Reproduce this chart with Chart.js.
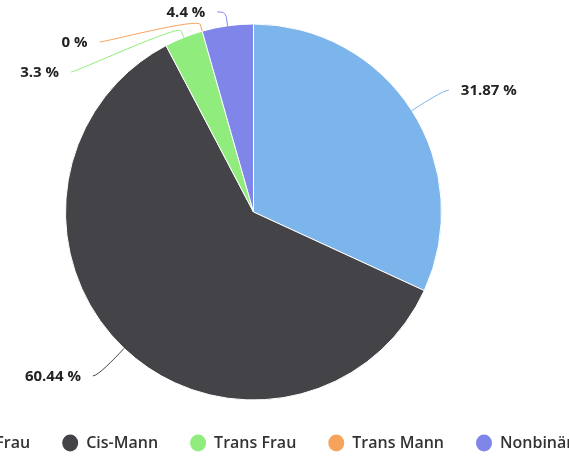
<!DOCTYPE html>
<html>
<head>
<meta charset="utf-8">
<script src="https://cdn.jsdelivr.net/npm/chart.js@4.4.1/dist/chart.umd.min.js"></script>
<style>
    html, body { margin: 0; padding: 0; background: #fff; overflow: hidden; width: 569px; height: 456px; }
    #wrap { position: absolute; left: -143px; top: 0; width: 801px; height: 461px; }
</style>
</head>
<body>
<div id="wrap"><canvas id="gender-chart" width="801" height="461"></canvas></div>
<script>
const categories = ['Cis-Frau', 'Cis-Mann', 'Trans Frau', 'Trans Mann', 'Nonbinär'];
const shares = [31.87, 60.44, 3.3, 0, 4.4];
const sliceColors = ['#7cb5ec', '#434348', '#90ed7d', '#f7a35c', '#8085e9'];

// labels outside the pie with bent connectors, spread apart when they crowd
const pieLabels = {
    id: 'pieLabels',
    afterLayout(chart, args, opts) {
        // legend sits a little right of the pie centre
        if (chart.legend) {
            chart.legend.left += opts.legendShift;
            chart.legend.right += opts.legendShift;
        }
    },
    afterDatasetsDraw(chart, args, opts) {
        const ctx = chart.ctx;
        const dataset = chart.data.datasets[0];
        const arcs = chart.getDatasetMeta(0).data;

        const items = arcs.map((arc, i) => {
            const {x, y, startAngle, endAngle, outerRadius} =
                arc.getProps(['x', 'y', 'startAngle', 'endAngle', 'outerRadius'], true);
            const mid = (startAngle + endAngle) / 2;
            const cos = Math.cos(mid);
            const sin = Math.sin(mid);
            const R = outerRadius + opts.distance;
            const brk = outerRadius + opts.breakOffset;
            return {
                cx: x, cy: y, r: outerRadius, R: R,
                left: cos < 0,
                naturalY: y + sin * R,
                touch: {x: x + cos * outerRadius, y: y + sin * outerRadius},
                brk: {x: x + cos * brk, y: y + sin * brk},
                text: dataset.data[i] + ' %',
                color: dataset.backgroundColor[i]
            };
        });

        [true, false].forEach(isLeft => {
            const group = items.filter(it => it.left === isLeft).sort((a, b) => a.naturalY - b.naturalY);
            if (!group.length) return;
            const minY = group[0].cy - group[0].r - opts.overhang;
            const maxY = group[0].cy + group[0].r + opts.overhang;
            let prev = -Infinity;
            group.forEach(it => {
                it.y = Math.max(it.naturalY, minY, prev + opts.spacing);
                prev = it.y;
            });
            let next = Infinity;
            for (let k = group.length - 1; k >= 0; k--) {
                group[k].y = Math.min(group[k].y, maxY, next - opts.spacing);
                next = group[k].y;
            }
            group.forEach(it => {
                const yForX = (it.y <= minY + 2 || it.y >= maxY - 2) ? it.naturalY : it.y;
                const s = Math.max(-1, Math.min(1, (yForX - it.cy) / it.R));
                const dx = Math.cos(Math.asin(s)) * it.R + opts.padding;
                it.x = it.cx + (isLeft ? -dx : dx);
            });
        });

        ctx.save();
        ctx.lineWidth = 1;
        items.forEach(it => {
            ctx.strokeStyle = it.color;
            ctx.beginPath();
            ctx.moveTo(it.x, it.y);
            ctx.bezierCurveTo(
                it.x + (it.left ? 5 : -5), it.y,
                2 * it.brk.x - it.touch.x, 2 * it.brk.y - it.touch.y,
                it.brk.x, it.brk.y
            );
            ctx.lineTo(it.touch.x, it.touch.y);
            ctx.stroke();
        });
        ctx.font = opts.font;
        ctx.fillStyle = opts.color;
        ctx.textBaseline = 'middle';
        items.forEach(it => {
            ctx.textAlign = it.left ? 'right' : 'left';
            ctx.fillText(it.text, it.x + (it.left ? -opts.gap : opts.gap), it.y + 1);
        });
        ctx.restore();
    }
};

const ctx = document.getElementById('gender-chart').getContext('2d');
const chartConfig = {
    type: 'pie',
    data: {
        labels: categories,
        datasets: [
            {
                data: shares,
                backgroundColor: sliceColors,
                borderColor: '#ffffff',
                borderWidth: 1
            }
        ]
    },
    options: {
        responsive: false,
        animation: false,
        radius: 188,
        layout: {
            padding: {top: 21, bottom: 0, left: 0, right: 8}
        },
        plugins: {
            tooltip: {enabled: false},
            legend: {
                position: 'bottom',
                labels: {
                    usePointStyle: true,
                    pointStyle: 'circle',
                    boxHeight: 12,
                    pointStyleWidth: 16,
                    padding: 32,
                    color: '#333333',
                    font: {family: 'Open Sans', size: 16, weight: '600'},
                    generateLabels(chart) {
                        return Chart.overrides.pie.plugins.legend.labels.generateLabels(chart)
                            .map(item => Object.assign(item, {lineWidth: 0, strokeStyle: item.fillStyle}));
                    }
                }
            },
            pieLabels: {
                distance: 38,
                breakOffset: 7,
                overhang: 12,
                spacing: 30,
                padding: 5,
                gap: 12,
                legendShift: 5,
                font: 'bold 15px "Open Sans"',
                color: '#222222'
            }
        }
    },
    plugins: [pieLabels]
};
new Chart(ctx, chartConfig);
</script>
</body>
</html>
